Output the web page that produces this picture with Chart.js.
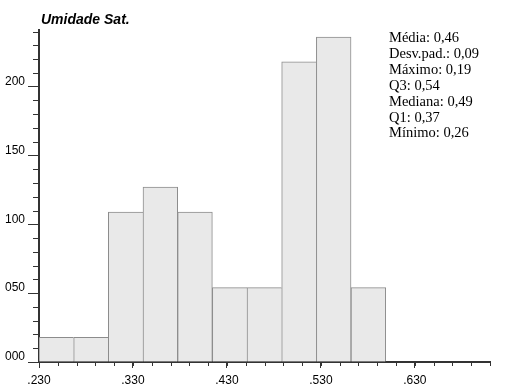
<!DOCTYPE html>
<html>
<head>
<meta charset="utf-8">
<script src="https://cdn.jsdelivr.net/npm/chart.js@4.4.1/dist/chart.umd.min.js"></script>
<style>
  body { margin: 0; background: #fff; }
  #wrap { position: relative; width: 508px; height: 389px; }
  #title {
    position: absolute; left: 41px; top: 10.5px;
    font: italic bold 14px "Liberation Sans", Arial, Helvetica, sans-serif;
    line-height: 16px; color: #000; white-space: nowrap;
  }
  #stats {
    position: absolute; left: 389px; top: 30px;
    font: 14.5px "Liberation Serif", "Times New Roman", serif;
    line-height: 15.9px; color: #000; white-space: pre;
  }
</style>
</head>
<body>
<div id="wrap">
  <canvas id="chart" width="508" height="389"></canvas>
  <div id="title"></div>
  <div id="stats"></div>
</div>
<script>
// histogram bins (edges) and counts
const binEdges = [0.2300, 0.2669, 0.3038, 0.3407, 0.3776, 0.4145, 0.4514, 0.4883, 0.5252, 0.5621, 0.5990];
const counts = [18, 18, 109, 127, 109, 54, 54, 218, 236, 54];

const xTickValues = [0.23, 0.33, 0.43, 0.53, 0.63];
const xTickLabels = ['.230', '.330', '.430', '.530', '.630'];
const yTickLabels = ['000', '050', '100', '150', '200'];

const statLines = [
  'Média: 0,46',
  'Desv.pad.: 0,09',
  'Máximo: 0,19',
  'Q3: 0,54',
  'Mediana: 0,49',
  'Q1: 0,37',
  'Mínimo: 0,26'
];

const title = 'Umidade Sat.';
const sansFont = '"Liberation Sans", Arial, Helvetica, sans-serif';

document.getElementById('title').textContent = title;
document.getElementById('stats').textContent = statLines.join('\n');

// bar centres from the bin edges
const bars = counts.map((c, i) => ({ x: (binEdges[i] + binEdges[i + 1]) / 2, y: c }));

// short in-between ticks, drawn on the axes after the main ones
const minorTicks = {
  id: 'minorTicks',
  afterDraw(chart) {
    const ctx = chart.ctx;
    const xs = chart.scales.x, ys = chart.scales.y;
    ctx.save();
    ctx.strokeStyle = '#333';
    ctx.lineWidth = 1;
    ctx.beginPath();
    for (let v = 0.25; v <= xs.max + 1e-9; v += 0.02) {
      const px = Math.round(xs.getPixelForValue(v)) + 0.5;
      ctx.moveTo(px, ys.bottom);
      ctx.lineTo(px, ys.bottom + 4);
    }
    for (let v = 10; v <= 240; v += 10) {
      if (v % 50 === 0) continue;
      const py = Math.round(ys.getPixelForValue(v)) + 0.5;
      ctx.moveTo(xs.left - 6, py);
      ctx.lineTo(xs.left, py);
    }
    ctx.stroke();
    ctx.restore();
  }
};

new Chart(document.getElementById('chart'), {
  type: 'bar',
  data: {
    datasets: [{
      data: bars,
      backgroundColor: '#e9e9e9',
      borderColor: '#8c8c8c',
      borderSkipped: false,
      borderWidth: (c) => {
        const i = c.dataIndex;
        const next = counts[i + 1];
        return { top: 1, left: 1, bottom: 0, right: (next === undefined || next < counts[i]) ? 1 : 0 };
      },
      barPercentage: 1,
      categoryPercentage: 1
    }]
  },
  options: {
    responsive: false,
    animation: false,
    layout: { padding: { left: 0, right: 18, top: 29.6, bottom: 0 } },
    plugins: {
      legend: { display: false },
      tooltip: { enabled: false },
      title: { display: false }
    },
    scales: {
      x: {
        type: 'linear',
        offset: false,
        min: 0.23,
        max: 0.71,
        afterBuildTicks: (s) => { s.ticks = xTickValues.map(v => ({ value: v })); },
        afterFit: (s) => { s.height = 27; },
        grid: { offset: false, drawOnChartArea: false, tickLength: 6, tickColor: '#333' },
        border: { color: '#333', width: 2 },
        ticks: {
          color: '#000',
          padding: 5,
          maxRotation: 0,
          autoSkip: false,
          font: { family: sansFont, size: 12 },
          callback: (v, i) => xTickLabels[i]
        }
      },
      y: {
        min: 0,
        max: 241.5,
        afterBuildTicks: (s) => { s.ticks = yTickLabels.map(l => ({ value: Number(l) })); },
        afterFit: (s) => { s.width = 39; },
        grid: { drawOnChartArea: false, tickLength: 11, tickColor: '#333' },
        border: { color: '#333', width: 2 },
        ticks: {
          color: '#000',
          padding: 3,
          labelOffset: -5,
          font: { family: sansFont, size: 12 },
          callback: (v, i) => yTickLabels[i]
        }
      }
    }
  },
  plugins: [minorTicks]
});
</script>
</body>
</html>
